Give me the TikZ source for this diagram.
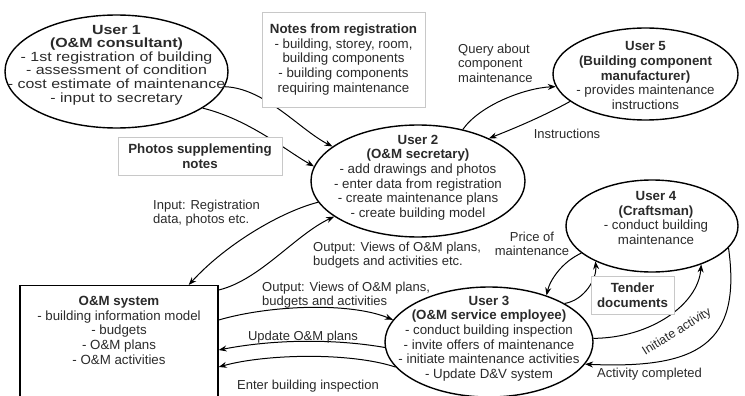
\documentclass[tikz,border=0pt]{standalone}
\usepackage{fontspec}
\setmainfont{Liberation Sans}
\newfontfamily\widesans{Liberation Sans}[FakeStretch=1.2]
\usepackage{tikz}
\usetikzlibrary{shapes.geometric,arrows.meta,positioning,calc}
\definecolor{txtgray}{HTML}{2A2A2A}
\definecolor{boxgray}{HTML}{C8C8C8}
\newcommand{\nrm}{\fontsize{13.3}{14.7}\selectfont}
\newcommand{\lbt}{\fontsize{13}{14.5}\selectfont}
\newcommand{\wdeA}{\widesans\fontsize{13.3}{13.6}\selectfont}

\begin{document}
\begin{tikzpicture}[x=1pt,y=-1pt,
  user/.style={ellipse, draw, line width=1.4pt, inner sep=0pt},
  utxt/.style={align=center, inner sep=0pt, text=txtgray, font=\nrm},
  note/.style={rectangle, draw=boxgray, line width=0.8pt, fill=white, align=center, inner sep=0pt, text=txtgray, font=\nrm},
  lbl/.style={align=left, inner sep=0pt, text=txtgray, font=\lbt},
  conn/.style={line width=1pt, -{Stealth[length=8pt,width=6pt]}}]
\useasboundingbox (0,0) rectangle (745,396);
\clip (0,0) rectangle (745,396);

\node (u1) [user, minimum width=223, minimum height=113] at (116.5,71.5) {};
\node (u2) [user, minimum width=214, minimum height=112] at (418,181) {};
\node (u5) [user, minimum width=185, minimum height=92] at (645.5,74) {};
\node (u4) [user, minimum width=172, minimum height=92] at (652,226) {};
\node (u3) [user, minimum width=208, minimum height=110] at (489,342) {};
\node (sys) [draw, line width=1.4pt, minimum width=198, minimum height=125, anchor=north] at (119,285) {};

\draw[conn] (u1.-8) .. controls (265,88) and (300,130) .. (u2.158);
\draw[conn] (u1.-23) .. controls (250,120) and (285,150) .. (u2.172);
\draw[conn] (u2.49) .. controls (480,105) and (525,88) .. (u5.188);
\draw[conn] (u5.200) .. controls (540,118) and (510,130) .. (u2.31);
\draw[conn] (u2.192) .. controls (280,212) and (225,245) .. ([xshift=-30pt]sys.north east);
\draw[conn] ([yshift=-5pt]sys.north east) .. controls (260,280) and (295,235) .. (u2.203);
\draw[conn] ([yshift=-35pt]sys.north east) .. controls (270,305) and (350,302) .. (u3.167);
\draw[conn] (u3.183) .. controls (330,338) and (270,340) .. ([yshift=-65pt]sys.north east);
\draw[conn] (u3.195) .. controls (350,352) and (265,354) .. ([yshift=-82pt]sys.north east);
\draw[conn] (u4.201) .. controls (562,262) and (550,280) .. (u3.39);
\draw[conn] (u3.27) .. controls (585,300) and (597,278) .. (u4.212);
\draw[conn] (u3.2) .. controls (650,338) and (698,305) .. (u4.-38);
\draw[conn] (u4.-16) .. controls (742,345) and (697,369) .. (u3.-13);

\node (notes) [note, minimum width=163, minimum height=95] at (343.5,59.5) {\textbf{Notes from registration}\\- building, storey, room,\\building components\\- building components\\requiring maintenance};
\node (photos) [note, minimum width=164, minimum height=38] at (200,156) {\textbf{Photos supplementing}\\\textbf{notes}};
\node (tender) [note, minimum width=83, minimum height=38] at (632.5,295) {\textbf{Tender}\\\textbf{documents}};

\node (u1t) [utxt, font=\wdeA] at ([yshift=6.5pt]u1.center) {\textbf{User 1}\\\textbf{(O\&M consultant)}\\- 1st registration of building\\- assessment of condition\\- cost estimate of maintenance\\- input to secretary};
\node (u2t) [utxt] at ([yshift=3.5pt]u2.center) {\textbf{User 2}\\\textbf{(O\&M secretary)}\\- add drawings and photos\\- enter data from registration\\- create maintenance plans\\- create building model};
\node (u5t) [utxt] at ([yshift=-1.5pt]u5.center) {\textbf{User 5}\\\textbf{(Building component}\\\textbf{manufacturer)}\\- provides maintenance\\instructions};
\node (u4t) [utxt] at ([xshift=4pt,yshift=8pt]u4.center) {\textbf{User 4}\\\textbf{(Craftsman)}\\- conduct building\\maintenance};
\node (u3t) [utxt] at ([yshift=3.5pt]u3.center) {\textbf{User 3}\\\textbf{(O\&M service employee)}\\- conduct building inspection\\- invite offers of maintenance\\- initiate maintenance activities\\- Update D\&V system};
\node (syst) [utxt, anchor=north] at ([yshift=-11pt]sys.north) {\textbf{O\&M system}\\- building information model\\- budgets\\- O\&M plans\\- O\&M activities};

\node (qry) [lbl, anchor=west] at (458,63) {Query about\\component\\maintenance};
\node (ins) [lbl] at (567,134) {Instructions};
\node (inp) [lbl, anchor=west] at (153,213) {Input: Registration\\data, photos etc.};
\node (out1) [lbl, anchor=west] at (313,255) {Output: Views of O\&M plans,\\budgets and activities etc.};
\node (out2) [lbl, anchor=west] at (262,295) {Output: Views of O\&M plans,\\budgets and activities};
\node (upd) [lbl] at (303,337) {Update O\&M plans};
\node (ent) [lbl] at (308,386) {Enter building inspection};
\node (prc) [lbl, align=center] at (532,244) {Price of\\maintenance};
\node (ini) [lbl, rotate=32, font=\fontsize{12.5}{14}\selectfont] at (677,332) {Initiate activity};
\node (cmp) [lbl, anchor=west] at (597,374) {Activity completed};
\end{tikzpicture}
\end{document}
